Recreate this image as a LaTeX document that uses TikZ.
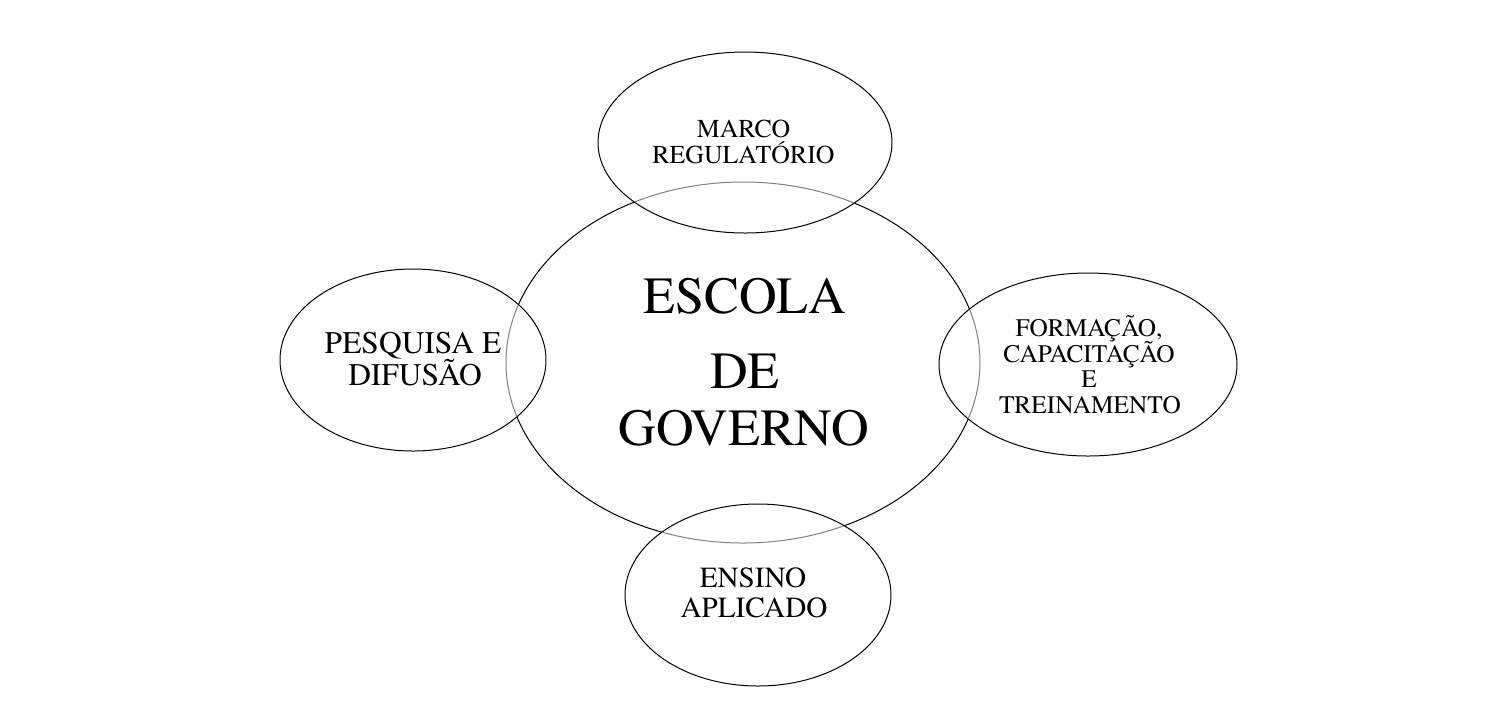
\documentclass[tikz,border=0pt]{standalone}
\usepackage{fontspec}
\setmainfont{texgyretermes-regular.otf}
\usetikzlibrary{shapes.geometric}
\begin{document}
\begin{tikzpicture}[x=0.5pt,y=-0.5pt,
  oval/.style={ellipse, draw=black, line width=0.5pt, inner sep=0pt, outer sep=0pt},
  sideoval/.style={oval, fill=white},
  behind/.style={draw=black!50, line width=0.5pt},
  txt/.style={anchor=base, inner sep=0pt, text=black},
  big/.style={txt, font=\fontsize{26.1}{28}\selectfont},
  ftop/.style={txt, font=\fontsize{12.9}{13}\selectfont},
  fleft/.style={txt, font=\fontsize{15.75}{16}\selectfont},
  fright/.style={txt, font=\fontsize{12.65}{13}\selectfont},
  fbottom/.style={txt, font=\fontsize{14.6}{15}\selectfont}]
\useasboundingbox[fill=white] (0,0) rectangle (1512,720);
% central ellipse
\node[oval, minimum width=237pt, minimum height=180.5pt] (center) at (743,362.5) {};
% surrounding ellipses
\node[sideoval, minimum width=147pt, minimum height=90.5pt] (top) at (745,142.5) {};
\node[sideoval, minimum width=133pt, minimum height=91pt] (left) at (413,360) {};
\node[sideoval, minimum width=149pt, minimum height=91.5pt] (right) at (1088,364.5) {};
\node[sideoval, minimum width=133pt, minimum height=91pt] (bottom) at (758,595) {};
% the central ellipse seen faintly through the surrounding ones
\begin{scope}
  \clip (top.center) ellipse [x radius=146.5, y radius=90];
  \draw[behind] (center.center) ellipse [x radius=237, y radius=180.5];
\end{scope}
\begin{scope}
  \clip (left.center) ellipse [x radius=132.5, y radius=90.5];
  \draw[behind] (center.center) ellipse [x radius=237, y radius=180.5];
\end{scope}
\begin{scope}
  \clip (right.center) ellipse [x radius=148.5, y radius=91];
  \draw[behind] (center.center) ellipse [x radius=237, y radius=180.5];
\end{scope}
\begin{scope}
  \clip (bottom.center) ellipse [x radius=132.5, y radius=90.5];
  \draw[behind] (center.center) ellipse [x radius=237, y radius=180.5];
\end{scope}
% central text
\node[big] (c1) at (745,313) {ESCOLA};
\node[big] (c2) at (745,388) {DE};
\node[big] (c3) at (744,445) {GOVERNO};
% top text
\node[ftop] (t1) at (743.5,137) {MARCO};
\node[ftop] (t2) at (743.5,163) {REGULATÓRIO};
% left text
\node[fleft] (l1) at (413,353) {PESQUISA E};
\node[fleft] (l2) at (415,385) {DIFUSÃO};
% right text
\node[fright] (r1) at (1089,336.5) {FORMAÇÃO,};
\node[fright] (r2) at (1089,362) {CAPACITAÇÃO};
\node[fright] (r3) at (1089,387.5) {E};
\node[fright] (r4) at (1090,413) {TREINAMENTO};
% bottom text
\node[fbottom] (b1) at (753,587) {ENSINO};
\node[fbottom] (b2) at (754,617) {APLICADO};
\end{tikzpicture}
\end{document}
